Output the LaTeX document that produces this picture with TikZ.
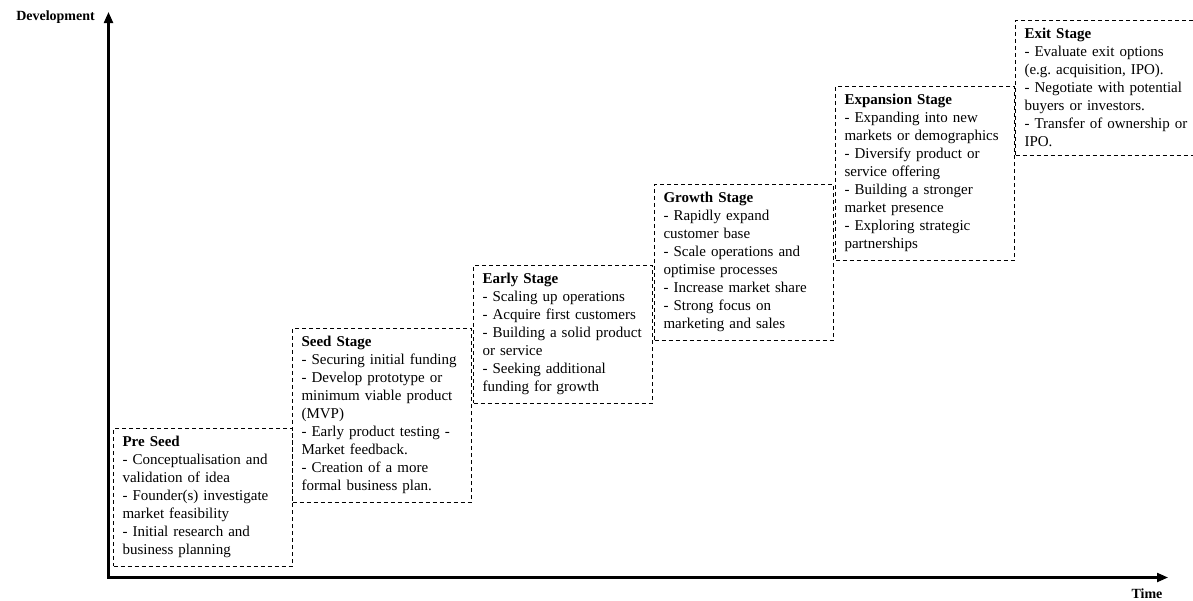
\documentclass[tikz,border=0pt]{standalone}
\usepackage{fontspec}
\setmainfont{Liberation Serif}
\usetikzlibrary{arrows.meta}
\frenchspacing

\begin{document}
\begin{tikzpicture}[x=1pt,y=-1pt,
    stagebox/.style={draw, dash pattern=on 4pt off 3pt, line width=1.1pt, anchor=north west,
      text width=161pt, inner xsep=9pt, inner ysep=8pt, align=left,
      font=\fontsize{15}{18}\selectfont},
    axislabel/.style={font=\fontsize{14}{16}\selectfont\bfseries, inner sep=0pt},
    axisline/.style={line width=2.2pt, {Triangle[length=11pt,width=9pt]}-{Triangle[length=11pt,width=9pt]}}]
  \useasboundingbox (0,0) rectangle (1193,600);
  \coordinate (origin) at (108.5,577.5);
  \coordinate (devtip) at (108.5,12);
  \coordinate (timetip) at (1168,577.5);
  \draw[axisline] (devtip) -- (origin) -- (timetip);
  \node[axislabel, anchor=east] (devlabel) at (95,17) {Development};
  \node[axislabel] (timelabel) at (1147,594) {Time};

  \node[stagebox] (preseed) at (113,428) {\textbf{Pre Seed}\\
    - Conceptualisation and\\ validation of idea\\
    - Founder(s) investigate\\ market feasibility\\
    - Initial research and\\ business planning};
  \node[stagebox] (seed) at (292,328) {\textbf{Seed Stage}\\
    - Securing initial funding\\
    - Develop prototype or\\ minimum viable product\\ (MVP)\\
    - Early product testing -\\ Market feedback.\\
    - Creation of a more\\ formal business plan.};
  \node[stagebox] (early) at (473,265) {\textbf{Early Stage}\\
    - Scaling up operations\\
    - Acquire first customers\\
    - Building a solid product\\ or service\\
    - Seeking additional\\ funding for growth};
  \node[stagebox] (growth) at (654,184) {\textbf{Growth Stage}\\
    - Rapidly expand\\ customer base\\
    - Scale operations and\\ optimise processes\\
    - Increase market share\\
    - Strong focus on\\ marketing and sales};
  \node[stagebox] (expansion) at (835,86) {\textbf{Expansion Stage}\\
    - Expanding into new\\ markets or demographics\\
    - Diversify product or\\ service offering\\
    - Building a stronger\\ market presence\\
    - Exploring strategic\\ partnerships};
  \node[stagebox] (exit) at (1015,20) {\textbf{Exit Stage}\\
    - Evaluate exit options\\ (e.g. acquisition, IPO).\\
    \mbox{- Negotiate with potential}\\ buyers or investors.\\
    \mbox{- Transfer of ownership or}\\ IPO.};
\end{tikzpicture}
\end{document}
